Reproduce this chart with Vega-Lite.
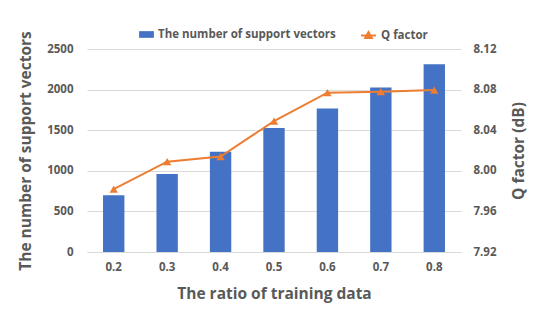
{
  "$schema": "https://vega.github.io/schema/vega-lite/v6.json",
  "width": 374,
  "height": 203,
  "autosize": "none",
  "padding": {"left": 87, "top": 49, "right": 89, "bottom": 77},
  "background": "white",
  "config": {
    "view": {"stroke": null},
    "font": "Open Sans",
    "axis": {"labelColor": "#595959", "titleColor": "#595959", "labelFont": "Open Sans", "titleFont": "Open Sans", "labelFontWeight": "bold", "titleFontWeight": "bold", "labelFontSize": 11.5, "titleFontSize": 15.5},
    "legend": {"labelColor": "#595959", "labelFont": "Open Sans", "labelFontWeight": "bold", "labelFontSize": 11.5, "labelLimit": 400}
  },
  "data": {
    "values": [
      {"ratio": "0.2", "sv": 700, "q": 7.982},
      {"ratio": "0.3", "sv": 960, "q": 8.009},
      {"ratio": "0.4", "sv": 1235, "q": 8.014},
      {"ratio": "0.5", "sv": 1527, "q": 8.049},
      {"ratio": "0.6", "sv": 1767, "q": 8.077},
      {"ratio": "0.7", "sv": 2025, "q": 8.078},
      {"ratio": "0.8", "sv": 2311, "q": 8.0795}
    ]
  },
  "encoding": {
    "x": {
      "field": "ratio", "type": "nominal", "sort": null,
      "scale": {"paddingInner": 0.6, "paddingOuter": 0.3},
      "axis": {"labelAngle": 0, "ticks": false, "domain": true, "domainColor": "#D9D9D9", "labelPadding": 9, "title": "The ratio of training data", "titlePadding": 14}
    }
  },
  "layer": [
    {
      "mark": {"type": "bar"},
      "encoding": {
        "y": {
          "field": "sv", "type": "quantitative",
          "scale": {"domain": [0, 2500], "nice": false},
          "axis": {"values": [0, 500, 1000, 1500, 2000, 2500], "format": "d", "grid": true, "gridColor": "#D9D9D9", "domain": false, "ticks": false, "labelPadding": 14, "title": "The number of support vectors", "titlePadding": 13}
        },
        "fill": {
          "datum": "The number  of support vectors",
          "scale": {"range": ["#4472C4"]},
          "legend": {"title": null, "orient": "none", "legendX": 52, "legendY": -22, "symbolType": "M-1,-0.45L1,-0.45L1,0.45L-1,0.45Z", "symbolSize": 220, "symbolStrokeWidth": 0}
        }
      }
    },
    {
      "layer": [
        {
          "mark": {"type": "line", "strokeWidth": 2},
          "encoding": {
            "y": {
              "field": "q", "type": "quantitative",
              "scale": {"domain": [7.92, 8.12], "nice": false, "zero": false},
              "axis": {"orient": "right", "values": [7.92, 7.96, 8.0, 8.04, 8.08, 8.12], "format": ".2f", "grid": false, "domain": false, "ticks": false, "labelPadding": 12, "title": "Q factor (dB)", "titleAngle": 270, "titlePadding": 30}
            },
            "stroke": {
              "datum": "Q factor",
              "scale": {"range": ["#ED7D31"]},
              "legend": {"title": null, "orient": "none", "legendX": 273, "legendY": -22, "symbolType": "M-1,0L1,0M0,-0.45L0.45,0.35L-0.45,0.35Z", "symbolSize": 220, "symbolStrokeWidth": 2, "symbolFillColor": "#ED7D31"}
            }
          }
        },
        {
          "mark": {"type": "point", "shape": "triangle-up", "filled": true, "size": 70, "color": "#ED7D31", "opacity": 1},
          "encoding": {
            "y": {"field": "q", "type": "quantitative"}
          }
        }
      ]
    }
  ],
  "resolve": {"scale": {"y": "independent", "fill": "independent", "stroke": "independent"}}
}
